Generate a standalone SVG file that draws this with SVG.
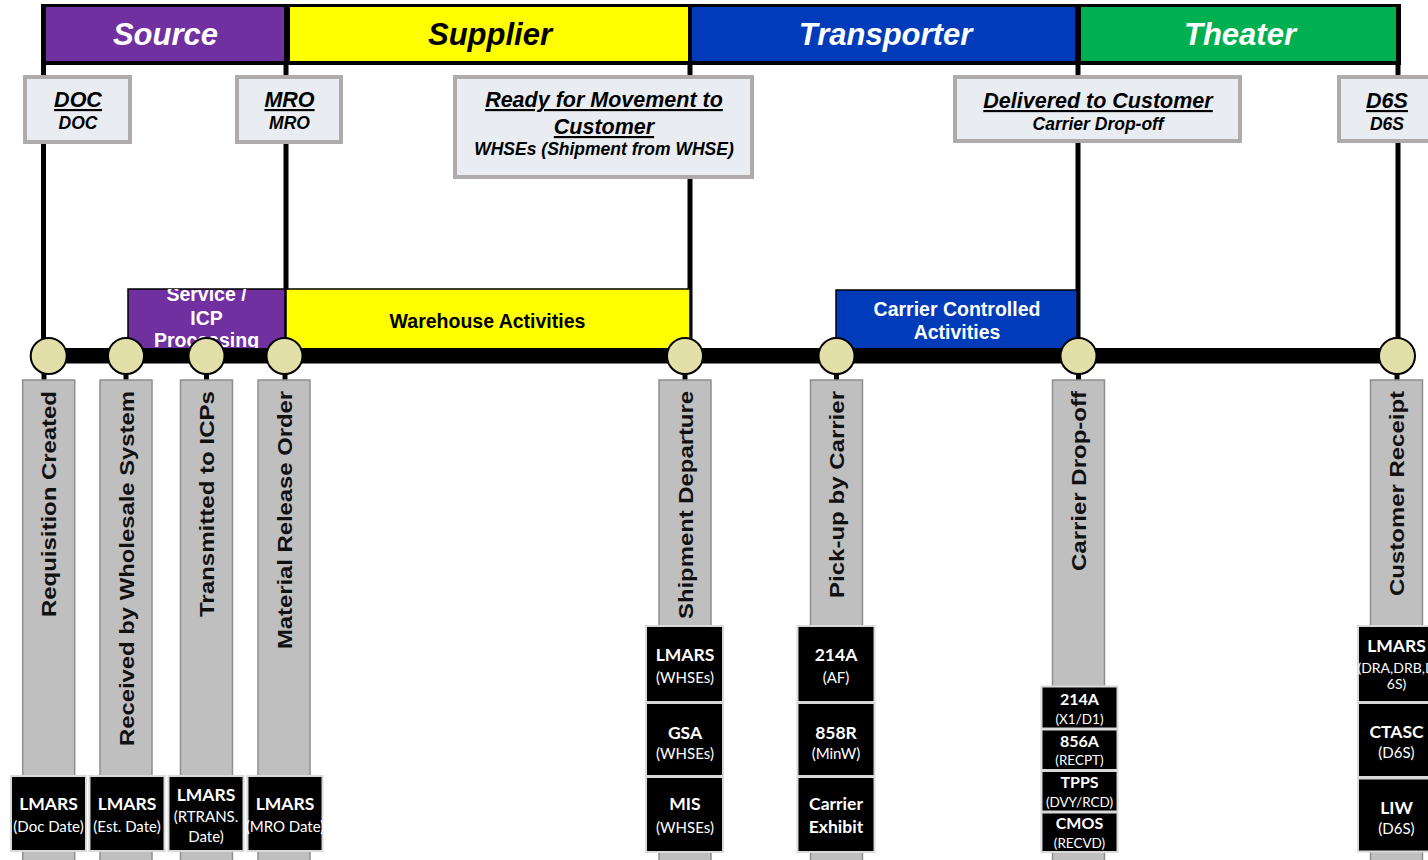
<svg xmlns="http://www.w3.org/2000/svg" width="1428" height="860" viewBox="0 0 1428 860">
<defs>
<style>
.hdr{font-family:"Liberation Sans",Arial,sans-serif;font-weight:bold;font-style:italic;font-size:31px;text-anchor:middle}
.msr{fill:#E9ECF1;stroke:#AFABAB;stroke-width:4}
.mt{font-family:"Liberation Sans",Arial,sans-serif;font-weight:bold;font-style:italic;font-size:21.5px;text-anchor:middle;text-decoration:underline;fill:#000}
.ms{font-family:"Liberation Sans",Arial,sans-serif;font-weight:bold;font-style:italic;font-size:17.5px;text-anchor:middle;fill:#000}
.act{font-family:"Liberation Sans",Arial,sans-serif;font-weight:bold;font-size:19.5px;text-anchor:middle}
.bar{fill:#BFBFBF;stroke:#8E8E8E;stroke-width:1.5}
.vt{font-family:"Liberation Sans",Arial,sans-serif;font-weight:bold;font-size:21px;text-anchor:end;fill:#111}
.dot{fill:#E3DFA8;stroke:#000;stroke-width:2}
.bx{fill:#000;stroke:#D9D9D9;stroke-width:2}
.b1{font-family:Lato,"Open Sans",sans-serif;font-weight:bold;font-size:17.5px;fill:#fff;text-anchor:middle}
.b2{font-family:Lato,"Open Sans",sans-serif;font-size:15px;fill:#fff;text-anchor:middle}
.b3{font-family:Lato,"Open Sans",sans-serif;font-size:14px;fill:#fff;text-anchor:middle}
.c1{font-family:Lato,"Open Sans",sans-serif;font-weight:bold;font-size:16px;fill:#fff;text-anchor:middle}
.c2{font-family:Lato,"Open Sans",sans-serif;font-size:13.5px;fill:#fff;text-anchor:middle}
.ln{stroke:#000;stroke-width:5;fill:none}
</style>
<clipPath id="svcClip"><rect x="128" y="289" width="157" height="60"/></clipPath>
</defs>
<rect width="1428" height="860" fill="#fff"/>

<!-- header -->
<g id="header">
<rect x="41" y="4" width="1360" height="61" fill="#000"/>
<rect x="46" y="7" width="238" height="54" fill="#7030A0"/>
<rect x="290" y="7" width="398" height="54" fill="#FFFF00"/>
<rect x="692" y="7" width="383" height="54" fill="#003BBA"/>
<rect x="1081" y="7" width="315" height="54" fill="#00B050"/>
<text class="hdr" x="165.5" y="45" fill="#fff">Source</text>
<text class="hdr" x="490" y="45" fill="#000">Supplier</text>
<text class="hdr" x="885.5" y="45" fill="#fff">Transporter</text>
<text class="hdr" x="1240" y="45" fill="#fff">Theater</text>
</g>

<!-- connectors -->
<g id="connectors">
<line class="ln" x1="43.5" y1="64" x2="43.5" y2="356"/>
<line class="ln" x1="286" y1="64" x2="286" y2="356"/>
<line class="ln" x1="690" y1="64" x2="690" y2="356"/>
<line class="ln" x1="1078" y1="64" x2="1078" y2="356"/>
<line class="ln" x1="1398" y1="64" x2="1398" y2="356"/>
</g>

<!-- milestones -->
<g id="ms-doc">
<rect class="msr" x="25" y="77" width="105" height="65"/>
<text class="mt" x="78" y="107">DOC</text>
<text class="ms" x="78" y="129">DOC</text>
</g>
<g id="ms-mro">
<rect class="msr" x="237" y="77" width="104" height="65"/>
<text class="mt" x="289.5" y="107">MRO</text>
<text class="ms" x="289.5" y="129">MRO</text>
</g>
<g id="ms-ready">
<rect class="msr" x="455" y="77" width="297" height="100"/>
<text class="mt" x="604" y="107">Ready for Movement to</text>
<text class="mt" x="604" y="134">Customer</text>
<text class="ms" x="604" y="155">WHSEs (Shipment from WHSE)</text>
</g>
<g id="ms-delivered">
<rect class="msr" x="955" y="77" width="285" height="64"/>
<text class="mt" x="1098" y="108">Delivered to Customer</text>
<text class="ms" x="1098" y="129.5">Carrier Drop-off</text>
</g>
<g id="ms-d6s">
<rect class="msr" x="1339" y="77" width="96" height="64"/>
<text class="mt" x="1387" y="108">D6S</text>
<text class="ms" x="1387" y="129.5">D6S</text>
</g>

<!-- activities -->
<g id="act-service">
<rect x="128" y="289" width="157" height="60" fill="#7030A0" stroke="#000" stroke-width="1.5"/>
<g clip-path="url(#svcClip)">
<text class="act" x="206.5" y="301" fill="#fff">Service /</text>
<text class="act" x="206.5" y="324.5" fill="#fff">ICP</text>
<text class="act" x="206.5" y="347" fill="#fff">Processing</text>
</g>
</g>
<g id="act-warehouse">
<rect x="286" y="289" width="404" height="60" fill="#FFFF00" stroke="#000" stroke-width="1.5"/>
<text class="act" x="487.5" y="328" fill="#000">Warehouse Activities</text>
</g>
<g id="act-carrier">
<rect x="836" y="290" width="241" height="59" fill="#003BBA" stroke="#000" stroke-width="1.5"/>
<text class="act" x="957" y="315.5" fill="#fff">Carrier Controlled</text>
<text class="act" x="957" y="339" fill="#fff">Activities</text>
</g>

<!-- timeline -->
<g id="timeline">
<rect x="48" y="348" width="1349" height="15.5" fill="#000"/>
<line class="ln" x1="44" y1="356" x2="44" y2="381"/>
<line class="ln" x1="126" y1="356" x2="126" y2="381"/>
<line class="ln" x1="206.5" y1="356" x2="206.5" y2="381"/>
<line class="ln" x1="285" y1="356" x2="285" y2="381"/>
<line class="ln" x1="685" y1="356" x2="685" y2="381"/>
<line class="ln" x1="836.5" y1="356" x2="836.5" y2="381"/>
<line class="ln" x1="1078.5" y1="356" x2="1078.5" y2="381"/>
<line class="ln" x1="1397" y1="356" x2="1397" y2="381"/>
</g>

<!-- event columns -->
<g id="ev-req">
<rect class="bar" x="22.7" y="380" width="52" height="490"/>
<text class="vt" transform="translate(56,391) rotate(-90)" textLength="226" lengthAdjust="spacingAndGlyphs">Requisition Created</text>
<circle class="dot" cx="48.7" cy="356" r="18"/>
<rect class="bx" x="11" y="776" width="75" height="75"/>
<text class="b1" x="48.5" y="810">LMARS</text>
<text class="b2" x="48.5" y="832">(Doc Date)</text>
</g>
<g id="ev-recv">
<rect class="bar" x="100" y="380" width="52" height="490"/>
<text class="vt" transform="translate(133.5,391) rotate(-90)" textLength="355" lengthAdjust="spacingAndGlyphs">Received by Wholesale System</text>
<circle class="dot" cx="126" cy="356" r="18"/>
<rect class="bx" x="89.5" y="776" width="75" height="75"/>
<text class="b1" x="127" y="810">LMARS</text>
<text class="b2" x="127" y="832">(Est. Date)</text>
</g>
<g id="ev-trans">
<rect class="bar" x="180.5" y="380" width="52" height="490"/>
<text class="vt" transform="translate(214,391) rotate(-90)" textLength="226" lengthAdjust="spacingAndGlyphs">Transmitted to ICPs</text>
<circle class="dot" cx="206.5" cy="356" r="18"/>
<rect class="bx" x="168.5" y="776" width="75" height="75"/>
<text class="b1" x="206" y="801">LMARS</text>
<text class="b2" x="206" y="822">(RTRANS.</text>
<text class="b2" x="206" y="842">Date)</text>
</g>
<g id="ev-mro">
<rect class="bar" x="258" y="380" width="52" height="490"/>
<text class="vt" transform="translate(291.5,391) rotate(-90)" textLength="258" lengthAdjust="spacingAndGlyphs">Material Release Order</text>
<circle class="dot" cx="284.5" cy="356" r="18"/>
<rect class="bx" x="247.5" y="776" width="75" height="75"/>
<text class="b1" x="285" y="810">LMARS</text>
<text class="b2" x="285" y="832">(MRO Date)</text>
</g>
<g id="ev-ship">
<rect class="bar" x="659" y="380" width="52" height="490"/>
<text class="vt" transform="translate(692.5,391) rotate(-90)" textLength="228" lengthAdjust="spacingAndGlyphs">Shipment Departure</text>
<circle class="dot" cx="685" cy="356" r="18"/>
<rect class="bx" x="646" y="626" width="77" height="76"/>
<rect class="bx" x="646" y="703" width="77" height="73"/>
<rect class="bx" x="646" y="777" width="77" height="75"/>
<text class="b1" x="685" y="661">LMARS</text>
<text class="b2" x="685" y="683">(WHSEs)</text>
<text class="b1" x="685" y="738.5">GSA</text>
<text class="b2" x="685" y="758.5">(WHSEs)</text>
<text class="b1" x="685" y="810">MIS</text>
<text class="b2" x="685" y="832.5">(WHSEs)</text>
</g>
<g id="ev-pickup">
<rect class="bar" x="810.5" y="380" width="52" height="490"/>
<text class="vt" transform="translate(844,391) rotate(-90)" textLength="207" lengthAdjust="spacingAndGlyphs">Pick-up by Carrier</text>
<circle class="dot" cx="836.5" cy="356" r="18"/>
<rect class="bx" x="797.5" y="626" width="77" height="76"/>
<rect class="bx" x="797.5" y="703" width="77" height="73"/>
<rect class="bx" x="797.5" y="777" width="77" height="75"/>
<text class="b1" x="836" y="661">214A</text>
<text class="b2" x="836" y="683">(AF)</text>
<text class="b1" x="836" y="738.5">858R</text>
<text class="b2" x="836" y="758.5">(MinW)</text>
<text class="b1" x="836" y="809.5">Carrier</text>
<text class="b1" x="836" y="832.5">Exhibit</text>
</g>
<g id="ev-dropoff">
<rect class="bar" x="1052.5" y="380" width="52" height="490"/>
<text class="vt" transform="translate(1086,391) rotate(-90)" textLength="180" lengthAdjust="spacingAndGlyphs">Carrier Drop-off</text>
<circle class="dot" cx="1078.5" cy="356" r="18"/>
<rect class="bx" x="1041.5" y="686.5" width="76" height="42"/>
<rect class="bx" x="1041.5" y="729.5" width="76" height="40.5"/>
<rect class="bx" x="1041.5" y="771" width="76" height="40.5"/>
<rect class="bx" x="1041.5" y="812.5" width="76" height="39.5"/>
<text class="c1" x="1079.5" y="705">214A</text>
<text class="c2" x="1079.5" y="724">(X1/D1)</text>
<text class="c1" x="1079.5" y="746.5">856A</text>
<text class="c2" x="1079.5" y="765">(RECPT)</text>
<text class="c1" x="1079.5" y="787.5">TPPS</text>
<text class="c2" x="1079.5" y="807">(DVY/RCD)</text>
<text class="c1" x="1079.5" y="828.5">CMOS</text>
<text class="c2" x="1079.5" y="848">(RECVD)</text>
</g>
<g id="ev-receipt">
<rect class="bar" x="1370.5" y="380" width="52" height="490"/>
<text class="vt" transform="translate(1404,391) rotate(-90)" textLength="205" lengthAdjust="spacingAndGlyphs">Customer Receipt</text>
<circle class="dot" cx="1397" cy="356" r="18"/>
<rect class="bx" x="1358" y="626" width="77" height="76"/>
<rect class="bx" x="1358" y="703" width="77" height="74"/>
<rect class="bx" x="1358" y="778.5" width="77" height="73"/>
<text class="b1" x="1396.5" y="652">LMARS</text>
<text class="b3" x="1396.5" y="672.5">(DRA,DRB,D</text>
<text class="b3" x="1396.5" y="689">6S)</text>
<text class="b1" x="1396.5" y="737.5">CTASC</text>
<text class="b2" x="1396.5" y="757.5">(D6S)</text>
<text class="b1" x="1396.5" y="813.5">LIW</text>
<text class="b2" x="1396.5" y="833.5">(D6S)</text>
</g>
</svg>
